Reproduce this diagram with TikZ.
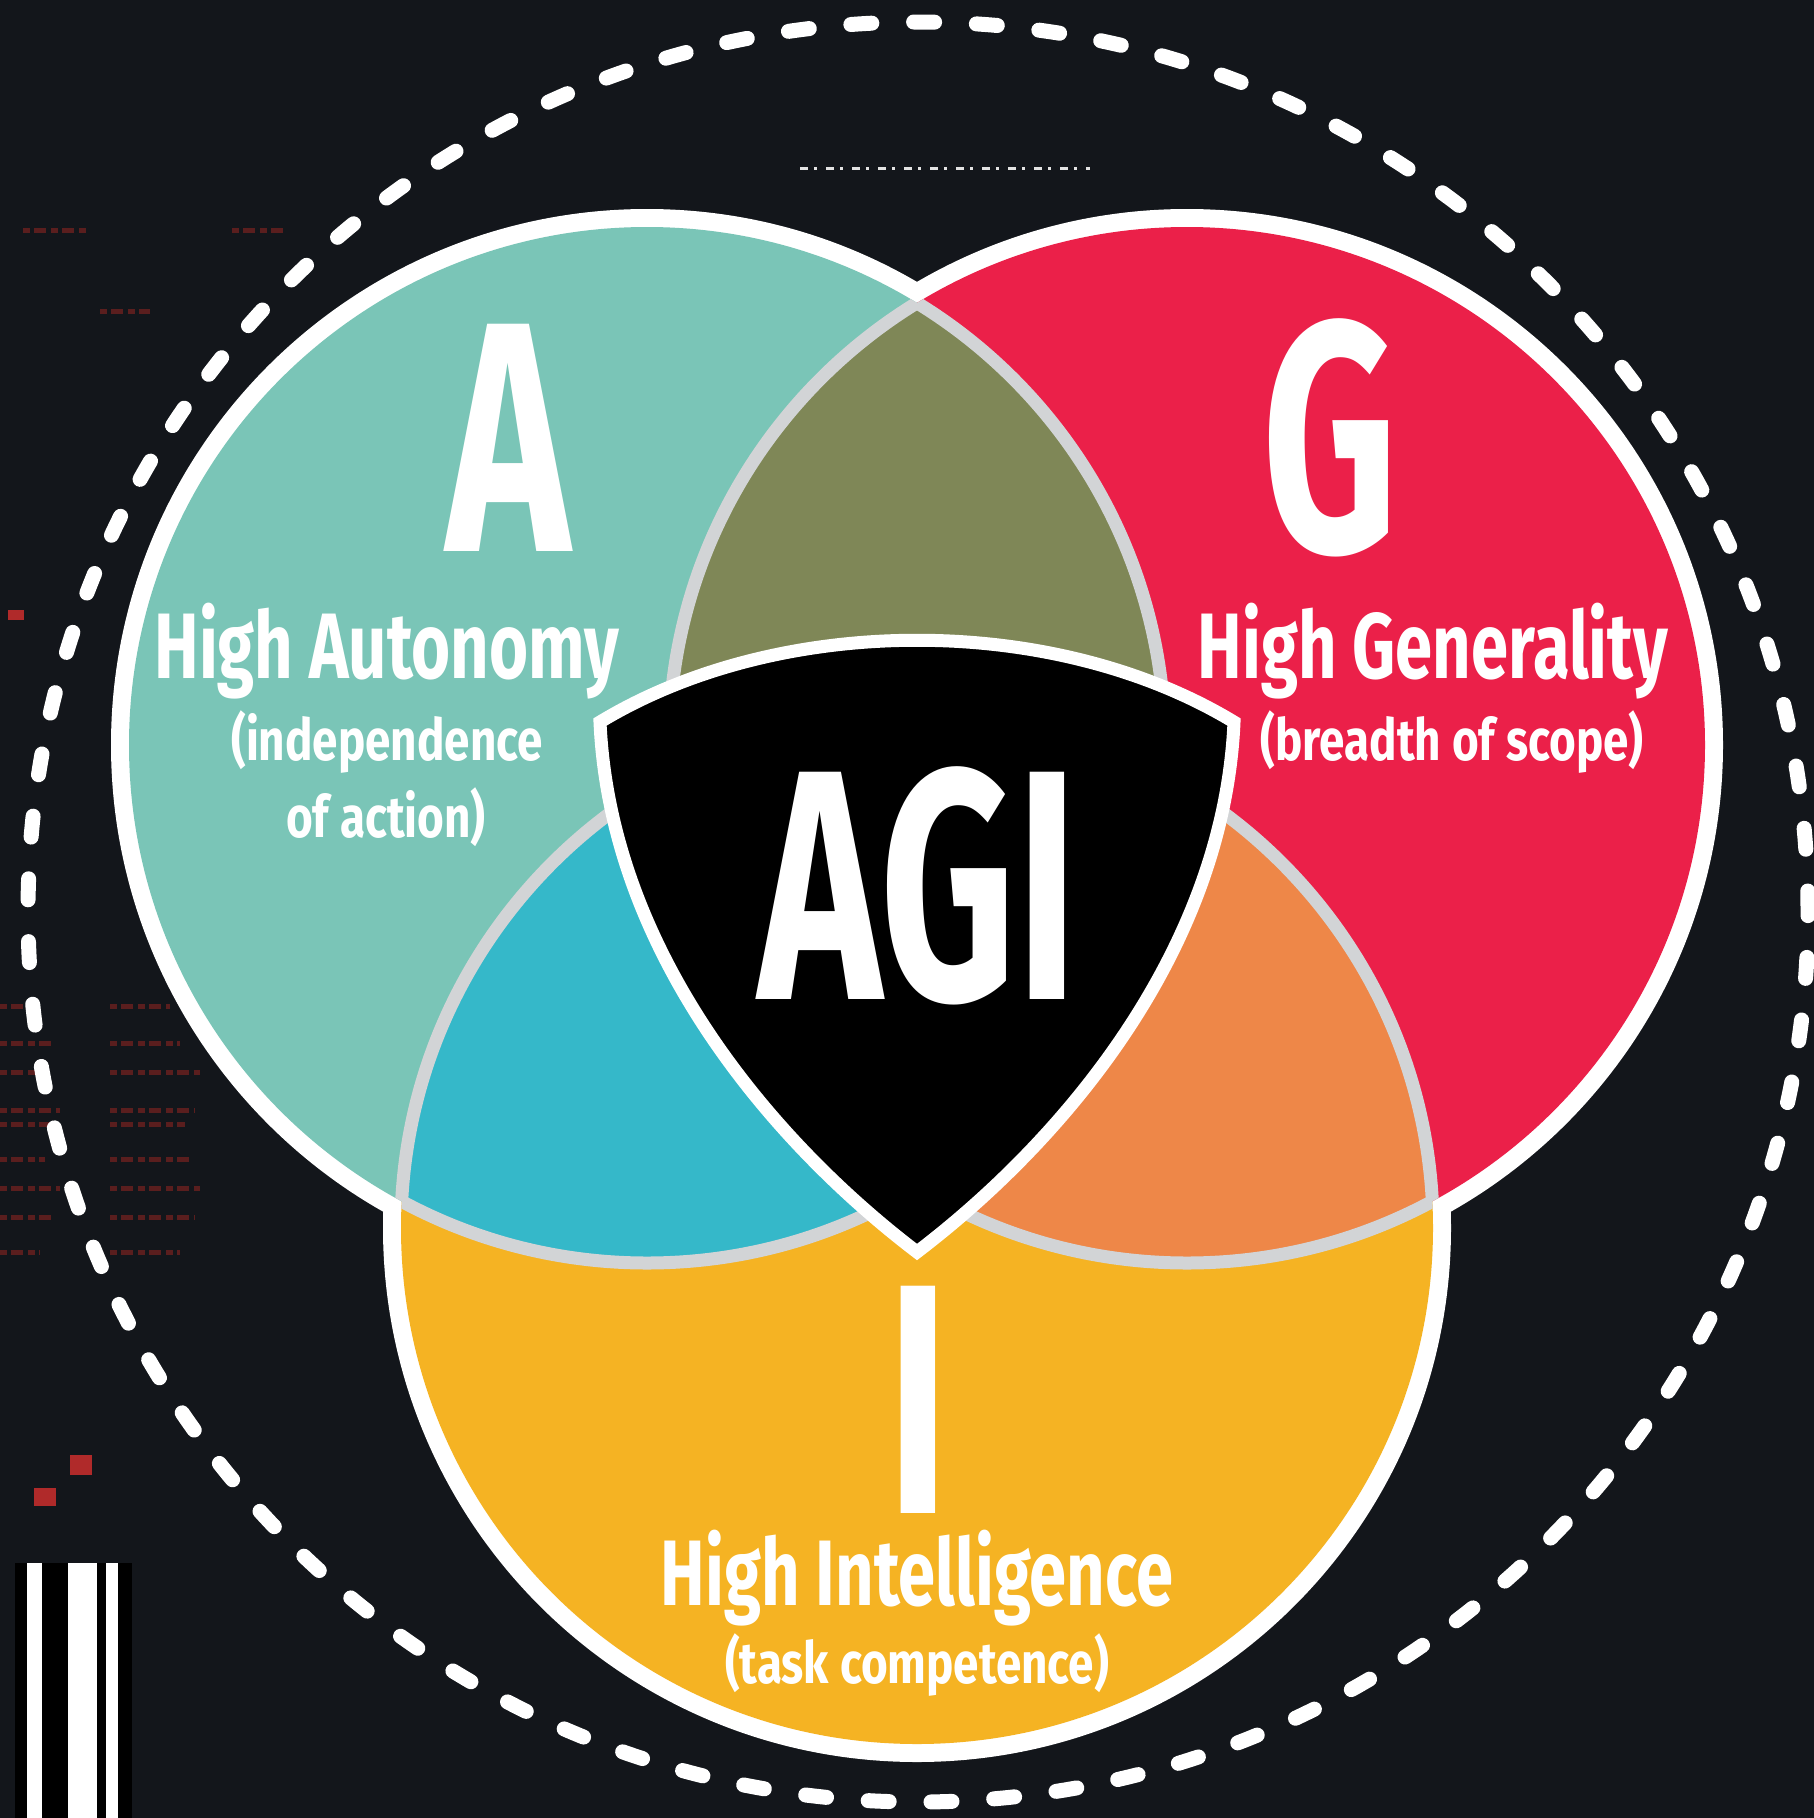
\documentclass[tikz,border=0pt]{standalone}
\usepackage{fontspec}
\setmainfont{Fira Sans}
\newfontfamily\labf[FakeStretch=0.72]{Fira Sans}
\newfontfamily\subf[FakeStretch=0.79]{Fira Sans}
\newfontfamily\bigf[FakeStretch=0.64]{Fira Sans}
\definecolor{bg}{HTML}{13161B}
\definecolor{tealc}{HTML}{7AC5B7}
\definecolor{redc}{HTML}{EB2049}
\definecolor{yelc}{HTML}{F5B323}
\definecolor{olivec}{HTML}{7F8757}
\definecolor{cyanc}{HTML}{35B8C9}
\definecolor{orangec}{HTML}{EE8748}
\definecolor{greyc}{HTML}{D2D4D6}
\definecolor{speck}{HTML}{5A1E1E}
\definecolor{speckb}{HTML}{B02A2A}
\begin{document}
\begin{tikzpicture}[x=1pt,y=-1pt,
  whiteedge/.style={draw=white,line width=36pt},
  inneredge/.style={draw=greyc,line width=13pt},
  big/.style={text=white,anchor=base,inner sep=0pt,font=\bigf\bfseries\fontsize{328}{328}\selectfont},
  title/.style={text=white,anchor=base,inner sep=0pt,font=\labf\bfseries\fontsize{93}{93}\selectfont},
  subtitle/.style={text=white,anchor=base,inner sep=0pt,font=\subf\bfseries\fontsize{58}{58}\selectfont},
  dashring/.style={draw=white,line width=15pt,line cap=round,dash pattern=on 21pt off 41.8pt},
  specks/.style={draw=speck,line width=5pt,dash pattern=on 7pt off 4pt on 12pt off 5pt}]
% background
\fill[bg] (0,0) rectangle (1814,1818);
\useasboundingbox (0,0) rectangle (1814,1818);
% background specks
\draw[specks] (23,230) -- (87,230);
\draw[specks] (232,230) -- (284,230);
\draw[specks] (100,311) -- (150,311);
\fill[speckb] (8,610) rectangle (24,620);
\foreach \yy/\wa/\wb in {1006/40/60,1043/55/70,1072/35/90,1110/60/85,1124/50/75,1159/45/80,1188/60/90,1217/55/85,1252/40/70}{
  \draw[specks] (0,\yy) -- (\wa,\yy);
  \draw[specks] (110,\yy) -- (110+\wb,\yy);
}
\fill[speckb] (70,1455) rectangle (92,1475);
\fill[speckb] (34,1488) rectangle (56,1506);
\fill[black] (15,1563) rectangle (132,1818);
\fill[white] (27,1563) rectangle (42,1818);
\fill[white] (68,1563) rectangle (97,1818);
\fill[white] (106,1563) rectangle (118,1818);
\draw[gray!22,line width=3pt,dash pattern=on 8pt off 6pt on 3pt off 9pt] (800,168) -- (1090,168);
% dashed ring
\draw[dashring] (918,912) circle[radius=890pt];
% outer white edges
\draw[whiteedge] (647,745) circle[radius=518pt];
\draw[whiteedge] (1187,745) circle[radius=518pt];
\draw[whiteedge] (917,1228) circle[radius=516pt];
% base fills
\fill[tealc] (647,745) circle[radius=518pt];
\fill[redc] (1187,745) circle[radius=518pt];
\fill[yelc] (917,1228) circle[radius=516pt];
% intersections
\begin{scope}
  \clip (647,745) circle[radius=518pt];
  \fill[olivec] (1187,745) circle[radius=518pt];
  \fill[cyanc] (917,1228) circle[radius=516pt];
\end{scope}
\begin{scope}
  \clip (1187,745) circle[radius=518pt];
  \fill[orangec] (917,1228) circle[radius=516pt];
\end{scope}
% inner grey edges
\begin{scope}
  \clip (1187,745) circle[radius=518pt];
  \draw[inneredge] (647,745) circle[radius=518pt];
  \draw[inneredge] (917,1228) circle[radius=516pt];
\end{scope}
\begin{scope}
  \clip (917,1228) circle[radius=516pt];
  \draw[inneredge] (647,745) circle[radius=518pt];
  \draw[inneredge] (1187,745) circle[radius=518pt];
\end{scope}
\begin{scope}
  \clip (647,745) circle[radius=518pt];
  \draw[inneredge] (1187,745) circle[radius=518pt];
  \draw[inneredge] (917,1228) circle[radius=516pt];
\end{scope}
% shield
\filldraw[fill=black,draw=white,line width=13pt]
  (600,722) .. controls (780,613) and (1054,613) .. (1234,722)
  .. controls (1224,950) and (1064,1140) .. (917,1252)
  .. controls (770,1140) and (610,950) .. (600,722) -- cycle;
% texts
\node[big] (la) at (508,551) {A};
\node[big] (lg) at (1330,551) {G};
\node[big] (li) at (918,1513) {I};
\node[big] (lagi) at (918,999) {AGI};
\node[title] (ta) at (387,678) {High Autonomy};
\node[subtitle] (sa1) at (387,760) {(independence};
\node[subtitle] (sa2) at (386,837) {of action)};
\node[title] (tg) at (1433,678) {High Generality};
\node[subtitle] (sg) at (1452,760) {(breadth of scope)};
\node[title] (ti) at (917,1605) {High Intelligence};
\node[subtitle] (si) at (917,1683) {(task competence)};
\end{tikzpicture}
\end{document}
